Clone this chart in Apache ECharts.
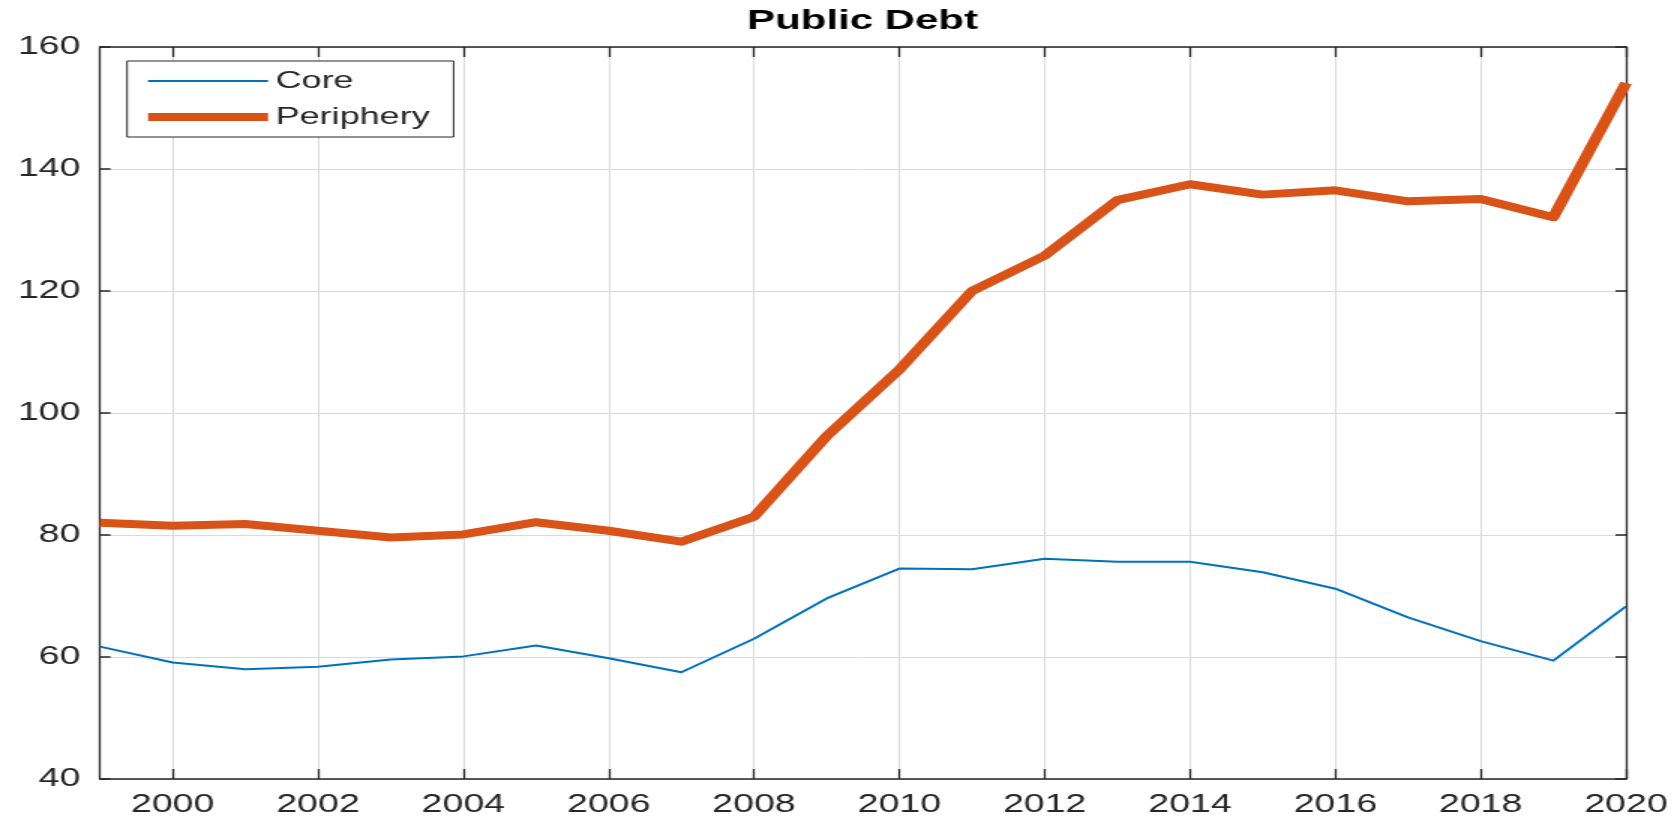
<!DOCTYPE html>
<html>
<head>
<meta charset="utf-8">
<script src="https://cdn.jsdelivr.net/npm/echarts@6/dist/echarts.min.js"></script>
<style>
  html, body { margin: 0; padding: 0; background: #fff; overflow: hidden; }
  #wrap { width: 1677px; height: 823px; overflow: hidden; }
  #chart { width: 1118px; height: 823px; transform: scaleX(1.5); transform-origin: 0 0; }
</style>
</head>
<body>
<div id="wrap"><div id="chart"></div></div>
<script>
const titleText = 'Public Debt';
const years = ['1999','2000','2001','2002','2003','2004','2005','2006','2007','2008','2009','2010','2011','2012','2013','2014','2015','2016','2017','2018','2019','2020'];
const core = [61.7, 59.1, 58.0, 58.4, 59.6, 60.1, 61.9, 59.8, 57.5, 63.0, 69.6, 74.5, 74.4, 76.1, 75.6, 75.6, 73.9, 71.2, 66.5, 62.6, 59.4, 68.3];
const periphery = [82.0, 81.5, 81.8, 80.7, 79.6, 80.1, 82.1, 80.7, 78.9, 83.0, 96.2, 107.1, 120.0, 125.8, 134.9, 137.5, 135.8, 136.5, 134.7, 135.1, 132.1, 154.1];
const yMin = 40, yMax = 160, yStep = 20;

const FONT = 'Liberation Sans, Arial, Helvetica, sans-serif';
const AX = '#262626';
const evenYear = (i) => i % 2 === 1;

const chart = echarts.init(document.getElementById('chart'), null, { renderer: 'canvas' });
chart.setOption({
  animation: false,
  backgroundColor: '#ffffff',
  title: {
    text: titleText,
    left: 575,
    top: 7,
    textAlign: 'center',
    padding: 0,
    textStyle: { fontFamily: FONT, fontSize: 28, fontWeight: 'bold', color: '#000' }
  },
  legend: {
    orient: 'vertical',
    left: 84.7,
    top: 61,
    padding: [8, 16, 8, 10],
    itemWidth: 80,
    itemHeight: 20,
    itemGap: 12,
    backgroundColor: '#ffffff',
    borderColor: AX,
    borderWidth: 1,
    itemStyle: { opacity: 0 },
    lineStyle: { width: 'inherit' },
    textStyle: { fontFamily: FONT, fontSize: 24, lineHeight: 20, color: AX },
    data: ['Core', 'Periphery']
  },
  grid: { left: 66.67, right: 34, top: 47, bottom: 44, containLabel: false },
  xAxis: [
    {
      type: 'category',
      data: years,
      boundaryGap: false,
      axisLine: { show: true, lineStyle: { color: AX, width: 1.5 } },
      axisTick: { show: true, inside: true, length: 10, interval: evenYear, lineStyle: { color: AX, width: 1.3 } },
      axisLabel: { show: true, interval: evenYear, margin: 14, fontFamily: FONT, fontSize: 25, color: AX },
      splitLine: { show: true, interval: evenYear, lineStyle: { color: '#dadada', width: 1 } }
    },
    {
      type: 'category',
      data: years,
      position: 'top',
      boundaryGap: false,
      axisLine: { show: true, lineStyle: { color: AX, width: 1.5 } },
      axisTick: { show: true, inside: true, length: 10, interval: evenYear, lineStyle: { color: AX, width: 1.3 } },
      axisLabel: { show: false },
      splitLine: { show: false }
    }
  ],
  yAxis: [
    {
      type: 'value',
      min: yMin, max: yMax, interval: yStep,
      axisLine: { show: true, lineStyle: { color: AX, width: 1.3 } },
      axisTick: { show: true, inside: true, length: 7, lineStyle: { color: AX, width: 1.5 } },
      axisLabel: { show: true, margin: 13, fontFamily: FONT, fontSize: 25, color: AX },
      splitLine: { show: true, lineStyle: { color: '#dadada', width: 1 } }
    },
    {
      type: 'value',
      position: 'right',
      min: yMin, max: yMax, interval: yStep,
      axisLine: { show: true, lineStyle: { color: AX, width: 1.3 } },
      axisTick: { show: true, inside: true, length: 7, lineStyle: { color: AX, width: 1.5 } },
      axisLabel: { show: false },
      splitLine: { show: false }
    }
  ],
  series: [
    {
      name: 'Core',
      type: 'line',
      data: core,
      xAxisIndex: 0, yAxisIndex: 0,
      symbol: 'none',
      lineStyle: { color: '#0072BD', width: 2, join: 'round' },
      itemStyle: { color: '#0072BD' },
      z: 3
    },
    {
      name: 'Periphery',
      type: 'line',
      data: periphery,
      xAxisIndex: 0, yAxisIndex: 0,
      symbol: 'none',
      lineStyle: { color: '#D95319', width: 8, join: 'round' },
      itemStyle: { color: '#D95319' },
      z: 4
    }
  ]
});
</script>
</body>
</html>
